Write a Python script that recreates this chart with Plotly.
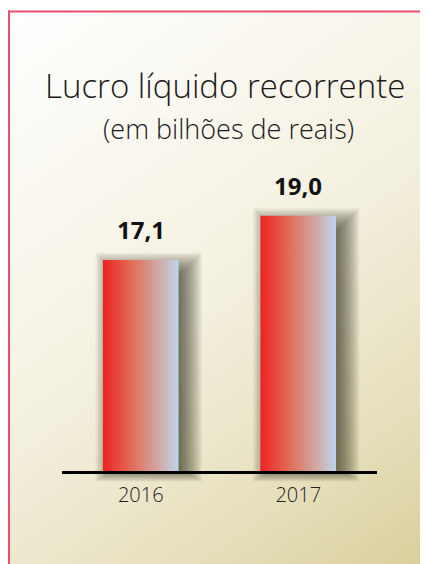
import numpy as np
import plotly.graph_objects as go

# ---- data ----
categories = ["2016", "2017"]
values = [17.1, 19.0]
value_labels = ["17,1", "19,0"]
title_text = "Lucro líquido recorrente"
subtitle_text = "(em bilhões de reais)"

# ---- layout constants (figure pixels; page has an 8px body margin) ----
W, H = 420, 556
y_min, y_max = 8.0, 20.1
x_left_px, x_right_px = 54, 369
base_px, top_px = 464.3, 182
bottom_px = 492
bar_width = 0.48
FONT = "Open Sans"

px_x = 2.0 / (x_right_px - x_left_px)          # data units per pixel (x)
px_y = (y_max - y_min) / (base_px - top_px)     # data units per pixel (y)
y_low = y_min - (bottom_px - base_px) * px_y

fig = go.Figure()

# ---- background gradient (heatmap on a full-size hidden axis) ----
N = 40
gx = np.linspace(0, 1, N)
gy = np.linspace(0, 1, N)
GX, GY = np.meshgrid(gx, gy)
Z = 0.35 * GX + 0.65 * (1 - GY)
fig.add_trace(go.Heatmap(
    x=gx, y=gy, z=Z, zsmooth="best", showscale=False, hoverinfo="skip",
    zmin=0, zmax=1,
    colorscale=[[0, "#ffffff"], [0.5, "#f4f0e0"], [0.8, "#e6dfbb"], [1, "#d9cf9c"]],
    xaxis="x", yaxis="y",
))

bar_scale = [[0, "#ee2222"], [0.4, "#e0705a"], [0.75, "#d0aaa8"], [1, "#bcd6ee"]]

# ---- blurred drop shadows ----
blur, n_layers = 16, 24
dx, dy = 8, 8
for i, v in enumerate(values):
    for k in range(n_layers):
        e = -blur + (k + 0.5) * (2 * blur / n_layers)
        x0 = i - bar_width / 2 + (dx - e) * px_x
        x1 = i + bar_width / 2 + (dx + e) * px_x
        y1 = v + (e - dy) * px_y
        y0 = y_min - max(0.0, e) * 0.6 * px_y
        fig.add_trace(go.Scatter(
            x=[x0, x1, x1, x0, x0], y=[y0, y0, y1, y1, y0],
            mode="lines", line=dict(width=0), fill="toself",
            fillcolor="rgba(30,30,25,0.05)", hoverinfo="skip",
            xaxis="x2", yaxis="y2", showlegend=False,
        ))

# ---- bars with horizontal gradient ----
for i, v in enumerate(values):
    x0 = i - bar_width / 2
    x1 = i + bar_width / 2
    fig.add_trace(go.Scatter(
        x=[x0, x1, x1, x0, x0], y=[y_min, y_min, v, v, y_min],
        mode="lines", line=dict(width=0), fill="toself",
        fillgradient=dict(type="horizontal", colorscale=bar_scale),
        hoverinfo="skip", xaxis="x2", yaxis="y2", showlegend=False,
    ))

# ---- value labels ----
for i, (v, lab) in enumerate(zip(values, value_labels)):
    fig.add_annotation(
        x=i, y=v, xref="x2", yref="y2", text=f"<b>{lab}</b>",
        showarrow=False, yanchor="bottom", yshift=12,
        font=dict(family=FONT, size=24, color="#111111"),
    )

# ---- titles ----
fig.add_annotation(x=217 / W, y=1 - 77 / H, xref="paper", yref="paper",
                   text=title_text, showarrow=False, yanchor="middle",
                   font=dict(family=FONT, size=33, color="#1a1a1a", weight=300))
fig.add_annotation(x=220 / W, y=1 - 120 / H, xref="paper", yref="paper",
                   text=subtitle_text, showarrow=False, yanchor="middle",
                   font=dict(family=FONT, size=27, color="#1a1a1a", weight=300))

# ---- border lines ----
red = "#e8506e"
fig.add_shape(type="line", xref="paper", yref="paper",
              x0=1 / W, x1=1 / W, y0=0, y1=1 - 2.5 / H,
              line=dict(color=red, width=2), layer="above")
fig.add_shape(type="line", xref="paper", yref="paper",
              x0=0, x1=1, y0=1 - 3.5 / H, y1=1 - 3.5 / H,
              line=dict(color=red, width=2), layer="above")

fig.update_layout(
    width=W, height=H,
    margin=dict(l=0, r=0, t=0, b=0),
    paper_bgcolor="#ffffff",
    plot_bgcolor="rgba(0,0,0,0)",
    showlegend=False,
    xaxis=dict(domain=[2 / W, 1], range=[0, 1], visible=False, fixedrange=True),
    yaxis=dict(domain=[0, 1 - 4.5 / H], range=[0, 1], visible=False, fixedrange=True),
    xaxis2=dict(domain=[x_left_px / W, x_right_px / W], range=[-0.5, 1.5],
                anchor="free", position=(H - base_px) / H,
                tickvals=[0, 1], ticktext=categories,
                showgrid=False, zeroline=False, showline=True,
                linecolor="#000000", linewidth=3, ticks="outside",
                ticklen=4, tickcolor="rgba(0,0,0,0)",
                tickfont=dict(family=FONT, size=20, color="#222222", weight=300)),
    yaxis2=dict(domain=[(H - bottom_px) / H, (H - top_px) / H], range=[y_low, y_max],
                anchor="x2", visible=False, showgrid=False, zeroline=False),
)

fig.write_html("out.html")
